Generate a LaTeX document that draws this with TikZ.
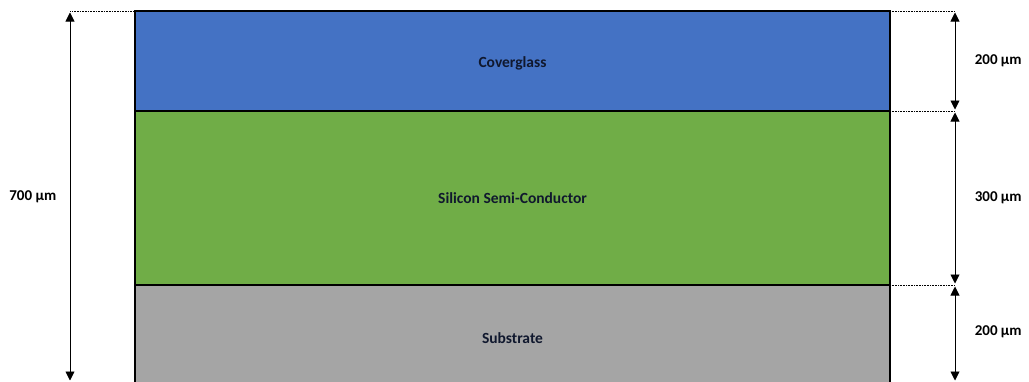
\documentclass[tikz,border=0pt]{standalone}
\usepackage{fontspec}
\setmainfont{Carlito}
\usetikzlibrary{positioning,arrows.meta}
\definecolor{glassblue}{HTML}{4472C4}
\definecolor{silgreen}{HTML}{70AD47}
\definecolor{subgray}{HTML}{A5A5A5}
\definecolor{labelink}{HTML}{10182E}
\tikzset{
  layer/.style={draw=black, line width=1.6pt, minimum width=755, inner sep=0pt,
    outer sep=0pt, font=\fontsize{15.5}{18}\selectfont\bfseries, text=labelink},
  dim/.style={<->, >={Triangle[length=9pt,width=9pt]}, line width=0.9pt,
    shorten <=1.5pt, shorten >=1.5pt},
  guide/.style={densely dotted, line width=0.6pt},
  dimlabel/.style={font=\fontsize{15}{18}\selectfont\bfseries}
}
\begin{document}
\begin{tikzpicture}[x=1pt,y=-1pt]
  \clip (0,0) rectangle (1029,381);
  \fill[white] (0,0) rectangle (1029,381);

  \node[layer, fill=glassblue, minimum height=100, text height=17pt, text depth=3.5pt] (cover) at (512.5,61) {Coverglass};
  \node[layer, fill=silgreen, minimum height=174, below=0pt of cover] (silicon) {Silicon Semi-Conductor};
  \node[layer, fill=subgray, minimum height=106, below=0pt of silicon] (substrate) {Substrate};

  \coordinate (ltop) at (70,11);
  \coordinate (lbot) at (70,382);
  \coordinate (r1) at (955,11);
  \coordinate (r2) at (955,111);
  \coordinate (r3) at (955,285);
  \coordinate (r4) at (955,382);

  \draw[guide] (cover.north west) -- (ltop);
  \draw[guide] (substrate.south west |- lbot) -- (lbot);
  \draw[guide] (cover.north east) -- (r1);
  \draw[guide] (cover.south east) -- (r2);
  \draw[guide] (silicon.south east) -- (r3);

  \draw[dim] (ltop) -- node[dimlabel, left=10pt] {700 µm} (lbot);
  \draw[dim] (r1) -- node[dimlabel, right=16pt] {200 µm} (r2);
  \draw[dim] (r2) -- node[dimlabel, right=16pt] {300 µm} (r3);
  \draw[dim] (r3) -- node[dimlabel, right=16pt, yshift=1.5pt] {200 µm} (r4);
\end{tikzpicture}
\end{document}
